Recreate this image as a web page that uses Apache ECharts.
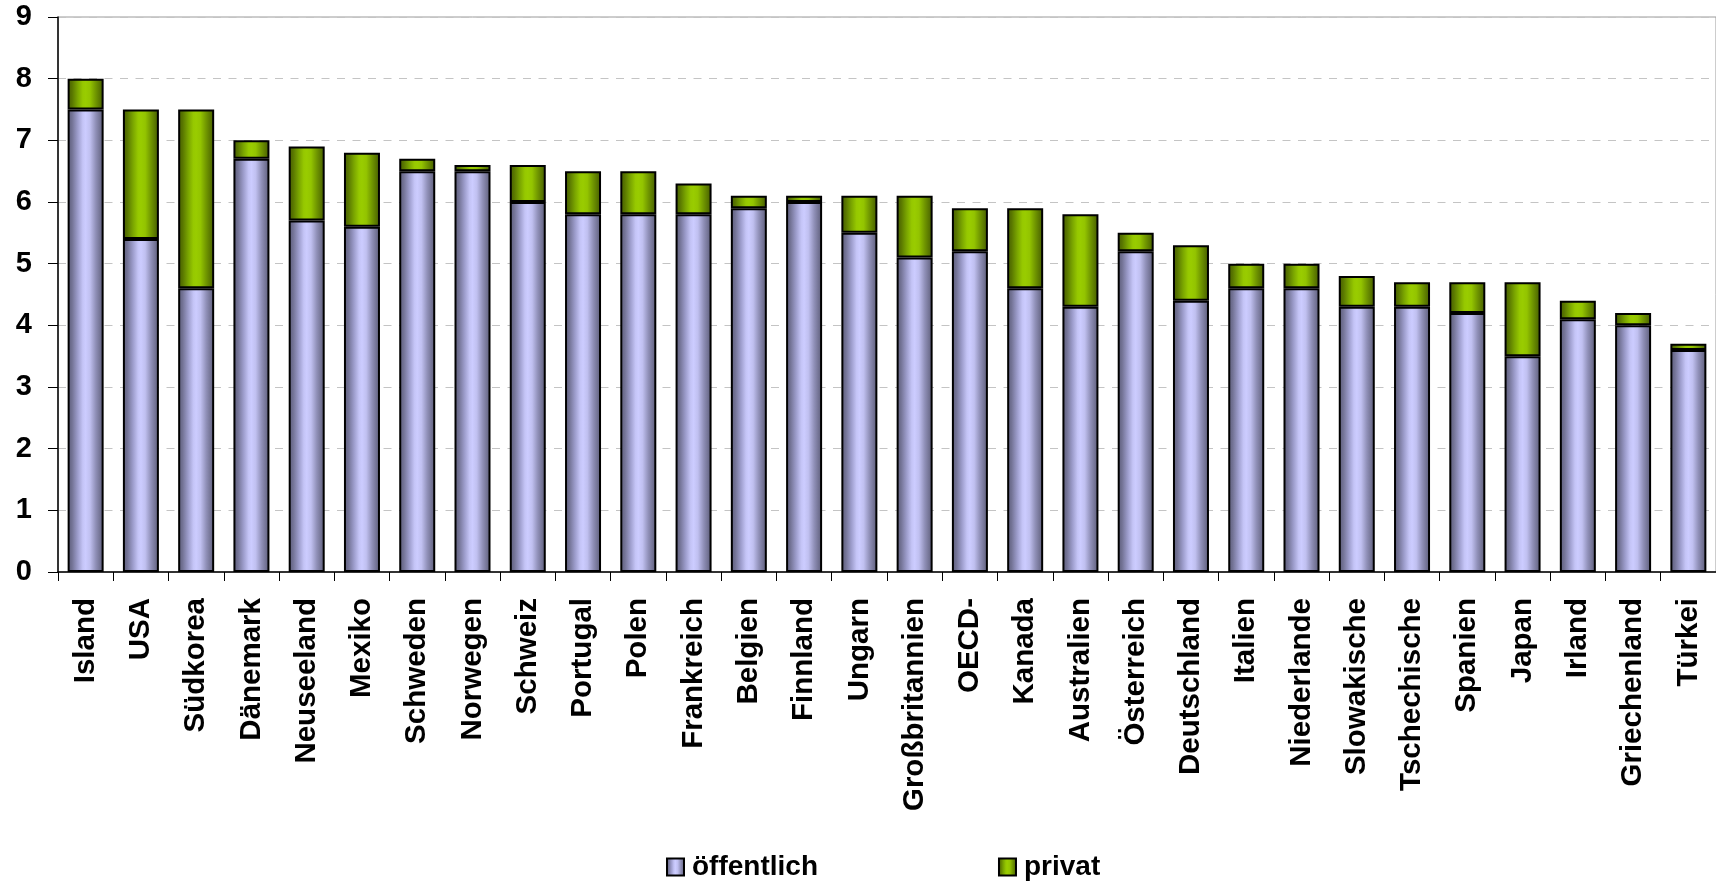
<!DOCTYPE html>
<html>
<head>
<meta charset="utf-8">
<style>
  html, body { margin: 0; padding: 0; background: #ffffff; }
  #chart { width: 1716px; height: 883px; }
</style>
<script src="https://cdn.jsdelivr.net/npm/echarts@6/dist/echarts.min.js"></script>
</head>
<body>
<div id="chart"></div>
<script>
// Countries, sorted by total spending
const categories = [
  'Island', 'USA', 'Südkorea', 'Dänemark', 'Neuseeland', 'Mexiko', 'Schweden',
  'Norwegen', 'Schweiz', 'Portugal', 'Polen', 'Frankreich', 'Belgien', 'Finnland',
  'Ungarn', 'Großbritannien', 'OECD-', 'Kanada', 'Australien', 'Österreich',
  'Deutschland', 'Italien', 'Niederlande', 'Slowakische', 'Tschechische',
  'Spanien', 'Japan', 'Irland', 'Griechenland', 'Türkei'
];

// Public share
const oeffentlich = [
  7.5, 5.4, 4.6, 6.7, 5.7, 5.6, 6.5,
  6.5, 6.0, 5.8, 5.8, 5.8, 5.9, 6.0,
  5.5, 5.1, 5.2, 4.6, 4.3, 5.2,
  4.4, 4.6, 4.6, 4.3, 4.3,
  4.2, 3.5, 4.1, 4.0, 3.6
];

// Private share (stacked on top)
const privat = [
  0.5, 2.1, 2.9, 0.3, 1.2, 1.2, 0.2,
  0.1, 0.6, 0.7, 0.7, 0.5, 0.2, 0.1,
  0.6, 1.0, 0.7, 1.3, 1.5, 0.3,
  0.9, 0.4, 0.4, 0.5, 0.4,
  0.5, 1.2, 0.3, 0.2, 0.1
];

const seriesNames = ['öffentlich', 'privat'];
const yTicks = { min: 0, max: 9, interval: 1 };

const FONT = '"Liberation Sans", Arial, Helvetica, sans-serif';

// Horizontal gradient giving the bars a rounded, cylinder-like shading
function cylinder(stops) {
  return new echarts.graphic.LinearGradient(0, 0, 1, 0,
    stops.map(([offset, color]) => ({ offset, color })));
}

const lavender = cylinder([
  [0, '#5c5c7a'], [0.12, '#727294'], [0.28, '#9d9dcc'], [0.42, '#c4c4f6'],
  [0.5, '#ccccff'], [0.62, '#c0c0f0'], [0.78, '#9090b8'], [0.9, '#737394'], [1, '#5a5a76']
]);
const green = cylinder([
  [0, '#465e00'], [0.12, '#587500'], [0.28, '#7aa500'], [0.42, '#96c800'],
  [0.5, '#99cc00'], [0.62, '#93c400'], [0.78, '#709600'], [0.9, '#587500'], [1, '#445c00']
]);

const chart = echarts.init(document.getElementById('chart'), null, { renderer: 'canvas' });

const barCommon = {
  type: 'bar',
  stack: 'total',
  barWidth: 36,
  emphasis: { disabled: true }
};

chart.setOption({
  animation: false,
  backgroundColor: '#ffffff',
  grid: {
    left: 58, top: 17, width: 1668, height: 555,
    show: true, borderColor: '#9a9a9a', borderWidth: 1
  },
  legend: {
    data: seriesNames,
    left: 661,
    top: 848,
    itemWidth: 17,
    itemHeight: 17,
    itemGap: 180,
    icon: 'rect',
    textStyle: { fontFamily: FONT, fontWeight: 'bold', fontSize: 28, color: '#000', padding: [0, 0, 0, 3] }
  },
  xAxis: {
    type: 'category',
    data: categories,
    axisLine: { lineStyle: { color: '#000', width: 1.5 } },
    axisTick: { show: true, length: 9, lineStyle: { color: '#000', width: 1 } },
    axisLabel: {
      rotate: 90,
      interval: 0,
      margin: 26,
      fontFamily: FONT,
      fontWeight: 'bold',
      fontSize: 29.5,
      color: '#000'
    },
    splitLine: { show: false }
  },
  yAxis: {
    type: 'value',
    min: yTicks.min,
    max: yTicks.max,
    interval: yTicks.interval,
    axisLine: { show: true, lineStyle: { color: '#000', width: 1.5 } },
    axisTick: { show: true, length: 10, lineStyle: { color: '#000', width: 1 } },
    axisLabel: {
      margin: 26,
      fontFamily: FONT,
      fontWeight: 'bold',
      fontSize: 29,
      color: '#000'
    },
    splitLine: {
      show: true,
      lineStyle: { color: '#c4c4c4', width: 1, type: [8, 7.5] }
    }
  },
  series: [
    Object.assign({}, barCommon, {
      name: seriesNames[0],
      data: oeffentlich,
      itemStyle: { color: lavender, borderColor: '#000', borderWidth: 2 }
    }),
    Object.assign({}, barCommon, {
      name: seriesNames[1],
      data: privat,
      itemStyle: { color: green, borderColor: '#000', borderWidth: 2 }
    })
  ]
});
</script>
</body>
</html>
